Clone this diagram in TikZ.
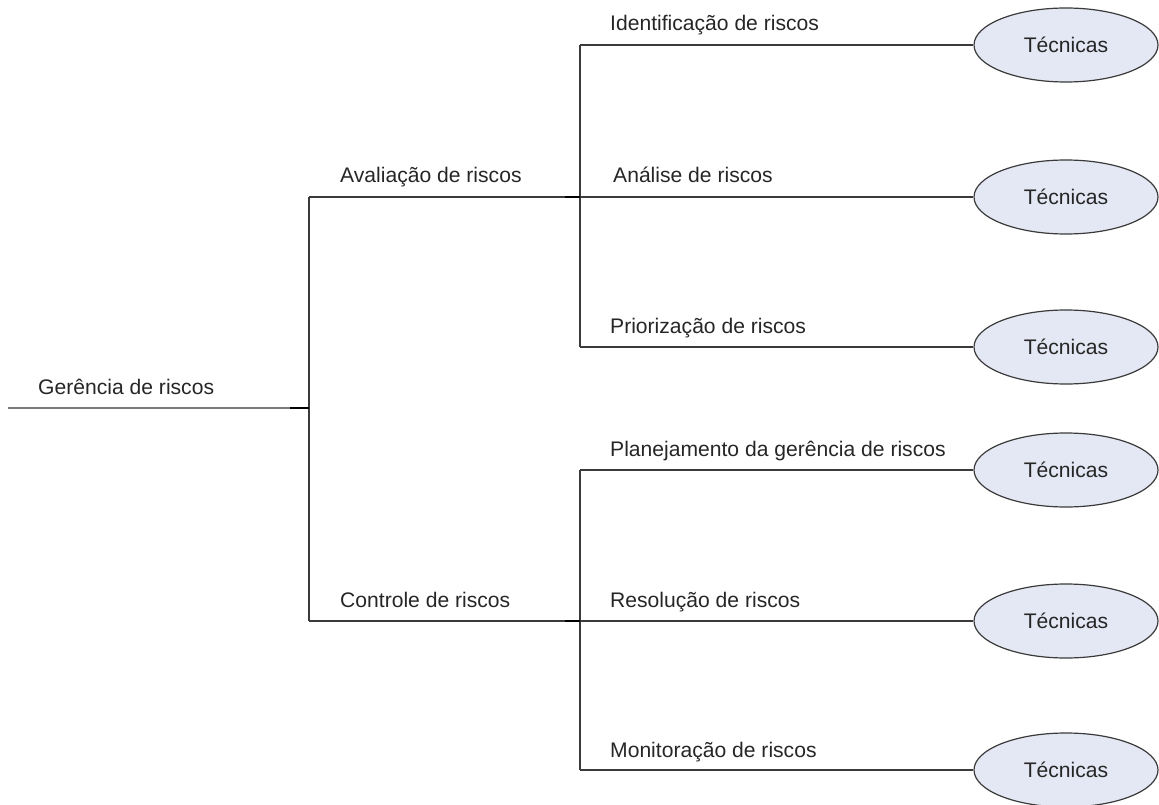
\documentclass[tikz,border=0pt]{standalone}
\usepackage{fontspec}
\setmainfont{Liberation Sans}
\usetikzlibrary{shapes.geometric}
\definecolor{linegray}{HTML}{3A3A3A}
\definecolor{rootgray}{HTML}{7A7A7A}
\definecolor{ovalfill}{HTML}{E4E8F4}
\begin{document}
\begin{tikzpicture}[x=1pt,y=-1pt,
  branch/.style={draw=linegray,line width=1.4pt},
  stub/.style={draw=black,line width=2pt},
  lbl/.style={anchor=base west,inner sep=0pt,text=black!85,font=\fontsize{21.1}{25}\selectfont},
  tecnica/.style={ellipse,draw=linegray,line width=1.2pt,fill=ovalfill,
    minimum width=184pt,minimum height=74pt,inner sep=0pt,
    font=\fontsize{21.1}{25}\selectfont,text=black!85}]
\useasboundingbox (0,0) rectangle (1159,805);

% tree junctions
\coordinate (start) at (8,408);
\coordinate (j0) at (309,408);
\coordinate (ja) at (309,197);
\coordinate (jc) at (309,621);
\coordinate (ka) at (580,197);
\coordinate (kc) at (580,621);
\coordinate (a1) at (580,45);
\coordinate (a3) at (580,347);
\coordinate (c1) at (580,470);
\coordinate (c3) at (580,770);

% technique ovals
\node[tecnica] (t1) at (1066,45) {Técnicas};
\node[tecnica] (t2) at (1066,197) {Técnicas};
\node[tecnica] (t3) at (1066,347) {Técnicas};
\node[tecnica] (t4) at (1066,470) {Técnicas};
\node[tecnica] (t5) at (1066,621) {Técnicas};
\node[tecnica] (t6) at (1066,770) {Técnicas};

% labels
\node[lbl] (lroot) at (38,394) {Gerência de riscos};
\node[lbl] (laval) at (340,183) {Avaliação de riscos};
\node[lbl] (lctrl) at (340,607) {Controle de riscos};
\node[lbl] (lid) at (610,31) {Identificação de riscos};
\node[lbl] (lan) at (613,183) {Análise de riscos};
\node[lbl] (lpri) at (610,333) {Priorização de riscos};
\node[lbl] (lpla) at (610,456) {Planejamento da gerência de riscos};
\node[lbl] (lres) at (610,607) {Resolução de riscos};
\node[lbl] (lmon) at (610,757) {Monitoração de riscos};

% connectors
\draw[draw=rootgray,line width=1.6pt] (start) -- (j0);
\draw[branch] (ja) -- (jc);
\draw[branch] (ja) -- (t2.west);
\draw[branch] (jc) -- (t5.west);
\draw[branch] (a1) -- (a3);
\draw[branch] (c1) -- (c3);
\draw[branch] (a1) -- (t1.west);
\draw[branch] (a3) -- (t3.west);
\draw[branch] (c1) -- (t4.west);
\draw[branch] (c3) -- (t6.west);

% junction stubs
\draw[stub] ([xshift=-19pt]j0) -- (j0);
\draw[stub] ([xshift=-15pt]ka) -- (ka);
\draw[stub] ([xshift=-15pt]kc) -- (kc);
\end{tikzpicture}
\end{document}
